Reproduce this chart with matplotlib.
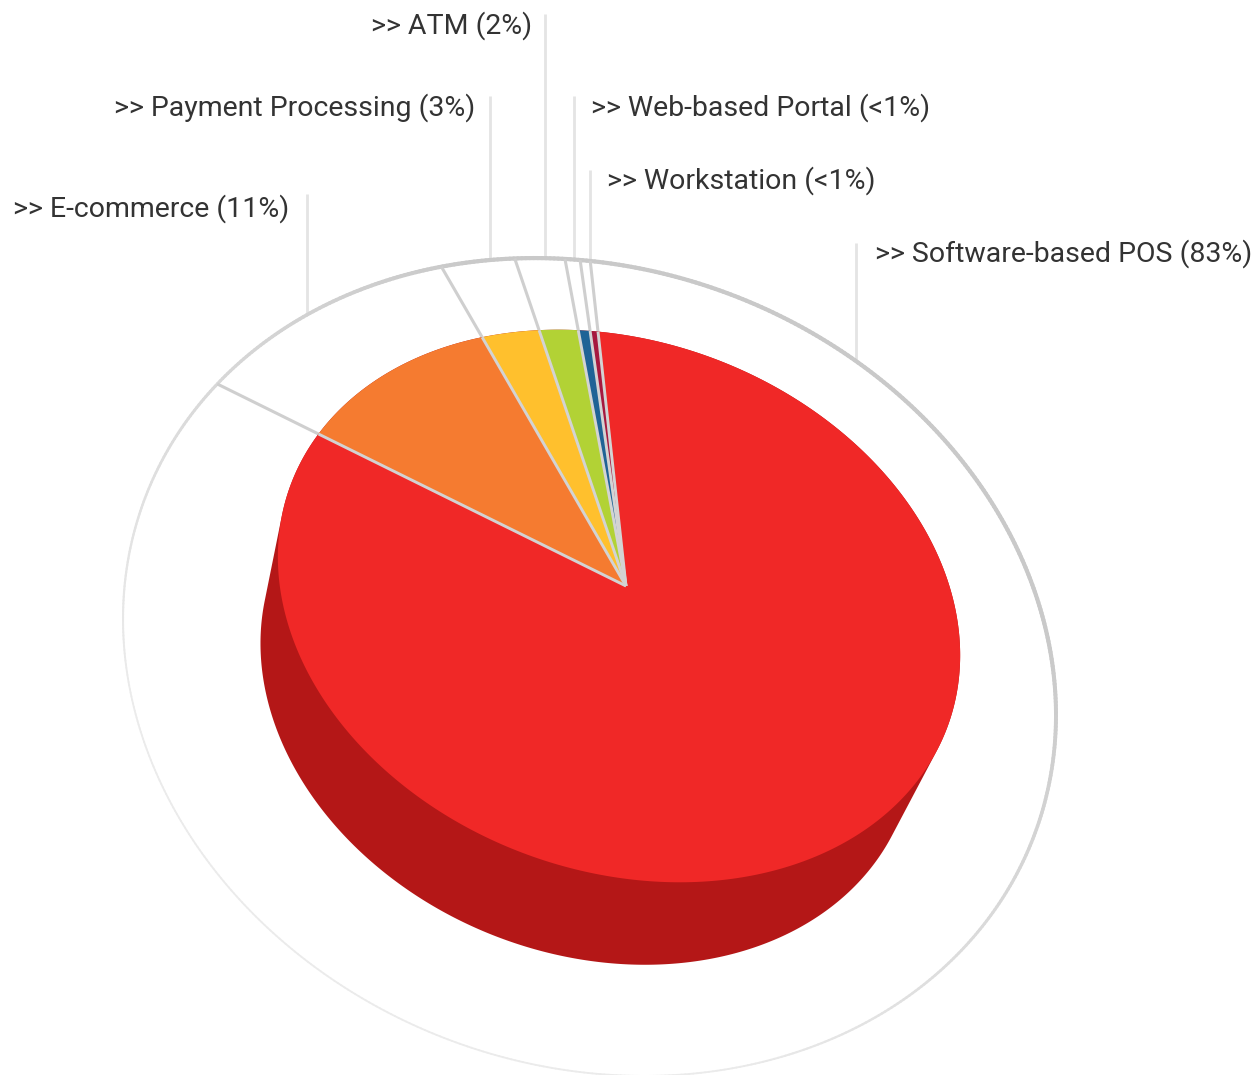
import numpy as np
import matplotlib
matplotlib.use("Agg")
import matplotlib.pyplot as plt
from matplotlib.collections import LineCollection

# ---- data ----
categories = ["Software-based POS", "E-commerce", "Payment Processing", "ATM", "Web-based Portal", "Workstation"]
shares = [83.0, 11.0, 3.0, 2.0, 0.6, 0.4]
share_labels = ["83%", "11%", "3%", "2%", "<1%", "<1%"]
colors = ["#F02827", "#F57B30", "#FFC02D", "#B2D235", "#1F6396", "#A6193F"]

# ---- geometry (pixel-space layout of the tilted pie) ----
W, H = 1254, 1075
TOP = dict(cx=619, cy=606, a=350, b=265, rot=20)
BOT = dict(cx=588, cy=691, a=337, b=262, rot=22)
RING = dict(cx=589.5, cy=667, a=475.5, b=398.4, rot=20.8)
APEX = (626, 586)
START_DEG = 110.5


def ell(e, t):
    r = np.radians(e["rot"])
    x, y = e["a"] * np.cos(t), -e["b"] * np.sin(t)
    return e["cx"] + x * np.cos(r) - y * np.sin(r), e["cy"] + x * np.sin(r) + y * np.cos(r)


def to_unit(e, px, py):
    r = np.radians(e["rot"])
    dx, dy = px - e["cx"], py - e["cy"]
    x = dx * np.cos(r) + dy * np.sin(r)
    y = -dx * np.sin(r) + dy * np.cos(r)
    return x / e["a"], -y / e["b"]


def hit_uv(e, o, d):
    b = o[0] * d[0] + o[1] * d[1]
    c = o[0] ** 2 + o[1] ** 2 - 1
    s = (-b + np.sqrt(b * b - (d[0] ** 2 + d[1] ** 2) * c)) / (d[0] ** 2 + d[1] ** 2)
    return np.arctan2(o[1] + s * d[1], o[0] + s * d[0])


def hit(e, th):
    """parameter on ellipse e of the ray leaving APEX at pie angle th (unit-circle space of e)"""
    return hit_uv(e, to_unit(e, *APEX), (np.cos(th), np.sin(th)))


def extend_to(e, px, py):
    """extend the straight pixel ray APEX->(px,py) until it meets ellipse e"""
    o = to_unit(e, *APEX)
    q = to_unit(e, px, py)
    return ell(e, hit_uv(e, o, (q[0] - o[0], q[1] - o[1])))


def hull(pts):
    pts = sorted(set(map(tuple, pts)))
    def half(ps):
        out = []
        for p in ps:
            while len(out) > 1 and (out[-1][0]-out[-2][0])*(p[1]-out[-2][1]) - (out[-1][1]-out[-2][1])*(p[0]-out[-2][0]) <= 0:
                out.pop()
            out.append(p)
        return out[:-1]
    return np.array(half(pts) + half(pts[::-1]))


fig = plt.figure(figsize=(W / 100, H / 100), dpi=100)
ax = fig.add_axes([0, 0, 1, 1])
ax.set_xlim(0, W)
ax.set_ylim(H, 0)
ax.axis("off")

# outer ring with shading
t = np.linspace(0, 2 * np.pi, 721)
rx, ry = ell(RING, t)
seg = np.stack([np.column_stack([rx[:-1], ry[:-1]]), np.column_stack([rx[1:], ry[1:]])], axis=1)
shade = np.clip(0.5 + 0.75 * np.cos(t[:-1] - np.radians(75)), 0, 1)
seg_col = [(0.92 - 0.13 * s,) * 3 for s in shade]
ax.add_collection(LineCollection(seg, colors=seg_col, linewidths=1.3 + 1.7 * shade, zorder=1, capstyle="round"))

# side wall
tt = np.linspace(0, 2 * np.pi, 721)
pts = np.vstack([np.column_stack(ell(TOP, tt)), np.column_stack(ell(BOT, tt))])
h = hull(np.round(pts, 3))
ax.fill(h[:, 0], h[:, 1], color="#B41717", lw=0, zorder=2)

# wedges (clockwise from the top)
fr = np.cumsum([0] + shares) / sum(shares)
th = np.radians(START_DEG) - 2 * np.pi * fr
for i, (c, a0, a1) in enumerate(zip(colors, th[:-1], th[1:])):
    ps = np.linspace(a0, a1, 360)
    ts = np.unwrap([hit(TOP, p) for p in ps])
    x, y = ell(TOP, ts)
    ax.fill(np.r_[APEX[0], x], np.r_[APEX[1], y], color=c, lw=0, zorder=3)

# separators & spokes
for a in th[:-1]:
    x, y = ell(TOP, hit(TOP, a))
    ax.plot([APEX[0], x], [APEX[1], y], color="#D3D3D3", lw=2.1, zorder=4, solid_capstyle="butt")
    xr, yr = extend_to(RING, x, y)
    ax.plot([x, xr], [y, yr], color="#CFCFCF", lw=2.2, zorder=1.5, solid_capstyle="butt")

# labels & leaders
leader_x = [856, 307, 490, 545, 574, 590]
leader_top = [243, 194, 96, 14, 96, 170]
text_xy = [(875, 254, "left"), (289, 209, "right"), (475, 108, "right"), (532, 26, "right"), (591, 108, "left"), (607, 181, "left")]
u = np.linspace(0, np.pi, 4000)
ex, ey = ell(RING, u)
for i, name in enumerate(categories):
    tx, ty, ha = text_xy[i]
    ax.text(tx, ty, f">> {name} ({share_labels[i]})", ha=ha, va="center", fontsize=20.5,
            family="Roboto", color="#333333", zorder=6)
    lx = leader_x[i]
    ly = ey[np.argmin(np.abs(ex - lx))]
    ax.plot([lx, lx], [leader_top[i], ly], color="#E4E4E4", lw=2.0, zorder=0.5, solid_capstyle="butt")

fig.savefig("out.png", dpi=100)
